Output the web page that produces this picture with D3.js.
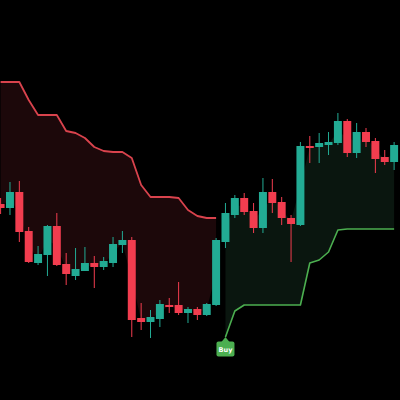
<!DOCTYPE html>
<html>
<head>
<meta charset="utf-8">
<script src="https://cdn.jsdelivr.net/npm/d3@7"></script>
<style>
  html, body { margin: 0; padding: 0; background: #000; }
  svg { display: block; }
</style>
</head>
<body>
<svg id="chart" width="400" height="400"></svg>
<script>
// ---- data (price units) ----
const opens  = [196,192,208,169,137,145,174,136,124,129,137,133,137,155,160,82,78,81,95,95,87,91,85,95,158,185,202,189,172,208,198,182,175,254,253,255,257,279,247,268,259,243,238];
const closes = [192,208,168,138,146,174,135,126,131,137,133,139,156,160,80,78,83,96,93,87,91,85,96,160,187,202,188,172,208,197,182,176,254,252,257,258,279,247,268,258,241,238,255];
const highs  = [202,218,219,173,154,175,187,147,152,153,144,143,163,169,163,97,90,100,102,118,93,93,97,162,197,205,207,197,222,221,203,185,258,264,267,268,287,281,277,272,262,250,258];
const lows   = [186,185,158,137,135,124,134,115,120,129,112,130,133,147,63,70,62,73,87,85,77,80,84,94,152,182,185,167,167,187,175,138,174,237,237,245,255,243,242,253,227,235,230];
// Supertrend: down trend (red) for bars 0-23, up trend (green) for bars 24-42
const downTrend = [318,318,318,300,285,285,285,269,267,262,253,249,248,248,242,215,203,203,203,202,190,184,182,182];
const upTrend   = [63,89,95,95,95,95,95,95,95,137,140,148,170,171,171,171,171,171,171];
const flipIndex = 24;
const signalText = "Buy";

const n = opens.length;
const idx = d3.range(n);

const x = d3.scaleBand().domain(idx).range([-4.085, 398.8]).paddingInner(0.15).paddingOuter(0.075);
const y = d3.scaleLinear().domain([0, 400]).range([400, 0]);
const cx = i => x(i) + x.bandwidth() / 2;
const mid = i => (opens[i] + closes[i]) / 2;

const svg = d3.select("#chart");
svg.append("rect").attr("width", 400).attr("height", 400).attr("fill", "#000");

const downIdx = d3.range(downTrend.length);
const upIdx = d3.range(flipIndex, flipIndex + upTrend.length);

// fills between trend line and body middle
const areaDown = d3.area().x(i => cx(i)).y0(i => y(mid(i))).y1(i => y(downTrend[i]));
const areaUp = d3.area().x(i => cx(i)).y0(i => y(mid(i))).y1(i => y(upTrend[i - flipIndex]));
svg.append("path").datum(downIdx).attr("d", areaDown).attr("fill", "rgb(28,8,10)");
svg.append("path").datum(upIdx).attr("d", areaUp).attr("fill", "rgb(10,22,15)");

// trend lines
const lineDown = d3.line().x(i => cx(i)).y(i => y(downTrend[i]));
const lineUp = d3.line().x(i => cx(i)).y(i => y(upTrend[i - flipIndex]));
svg.append("path").datum(downIdx).attr("d", lineDown).attr("fill", "none")
  .attr("stroke", "#d9434d").attr("stroke-width", 1.8).attr("stroke-linejoin", "round");
svg.append("path").datum(upIdx).attr("d", lineUp).attr("fill", "none")
  .attr("stroke", "#4caf50").attr("stroke-width", 1.6).attr("stroke-linejoin", "round");

// candles
const red = "#f23d4f", green = "#22ab94";
const col = i => closes[i] >= opens[i] ? green : red;
const g = svg.append("g");
g.selectAll("line.wick").data(idx).join("line")
  .attr("x1", i => cx(i)).attr("x2", i => cx(i))
  .attr("y1", i => y(highs[i])).attr("y2", i => y(lows[i]))
  .attr("stroke", col).attr("stroke-width", 1);
g.selectAll("rect.body").data(idx).join("rect")
  .attr("x", i => x(i)).attr("width", x.bandwidth())
  .attr("y", i => y(Math.max(opens[i], closes[i])))
  .attr("height", i => Math.max(1.5, Math.abs(y(opens[i]) - y(closes[i]))))
  .attr("fill", col);

// Buy label
const lx = cx(flipIndex), ly = y(upTrend[0]);
const lab = svg.append("g");
lab.append("path").attr("d", `M${lx},${ly} L${lx-4},${ly+5} L${lx+4},${ly+5} Z`).attr("fill", "#4caf50");
lab.append("rect").attr("x", lx - 9).attr("y", ly + 4.5).attr("width", 18).attr("height", 15).attr("rx", 2).attr("fill", "#4caf50");
lab.append("text").attr("x", lx).attr("y", ly + 14.5).attr("text-anchor", "middle")
  .attr("font-family", "DejaVu Sans, sans-serif").attr("font-size", 6.5).attr("font-weight", "bold")
  .attr("fill", "#fff").text(signalText);
</script>
</body>
</html>
